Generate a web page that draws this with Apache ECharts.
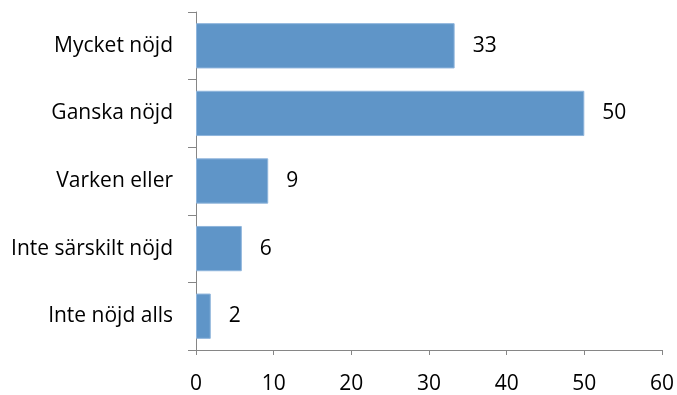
<!DOCTYPE html>
<html>
<head>
<meta charset="utf-8">
<script src="https://cdn.jsdelivr.net/npm/echarts@6/dist/echarts.min.js"></script>
<style>
html,body{margin:0;padding:0;background:#fff;}
#chart{width:677px;height:395px;}
</style>
</head>
<body>
<div id="chart"></div>
<script>
var categories = ["Mycket nöjd", "Ganska nöjd", "Varken eller", "Inte särskilt nöjd", "Inte nöjd alls"];
var values = [33.3, 50, 9.3, 5.9, 1.9];
var valueLabels = ["33", "50", "9", "6", "2"];
var xTicks = [0, 10, 20, 30, 40, 50, 60];

var chart = echarts.init(document.getElementById('chart'));
var font = "'Open Sans', 'Liberation Sans', sans-serif";
chart.setOption({
  animation: false,
  grid: {left: 196, right: 14, top: 12, bottom: 45, containLabel: false},
  xAxis: {
    type: 'value',
    min: xTicks[0],
    max: xTicks[xTicks.length - 1],
    interval: 10,
    axisLine: {show: true, lineStyle: {color: '#868686', width: 1}},
    axisTick: {show: true, length: 5, lineStyle: {color: '#868686'}},
    splitLine: {show: false},
    axisLabel: {color: '#000', fontFamily: font, fontSize: 21, margin: 24}
  },
  yAxis: {
    type: 'category',
    inverse: true,
    data: categories,
    axisLine: {show: true, lineStyle: {color: '#868686', width: 1}},
    axisTick: {show: true, length: 8, alignWithLabel: false, lineStyle: {color: '#868686'}},
    axisLabel: {color: '#000', fontFamily: font, fontSize: 21, margin: 23, padding: [3, 0, 0, 0]}
  },
  series: [{
    type: 'bar',
    data: values,
    barCategoryGap: '33%',
    itemStyle: {color: '#5f95c8', borderColor: '#8fb5dc', borderWidth: 1},
    label: {
      show: true,
      position: 'right',
      distance: 18,
      color: '#000',
      fontFamily: font,
      fontSize: 21,
      padding: [3, 0, 0, 0],
      formatter: function (p) { return valueLabels[p.dataIndex]; }
    }
  }]
});
</script>
</body>
</html>
